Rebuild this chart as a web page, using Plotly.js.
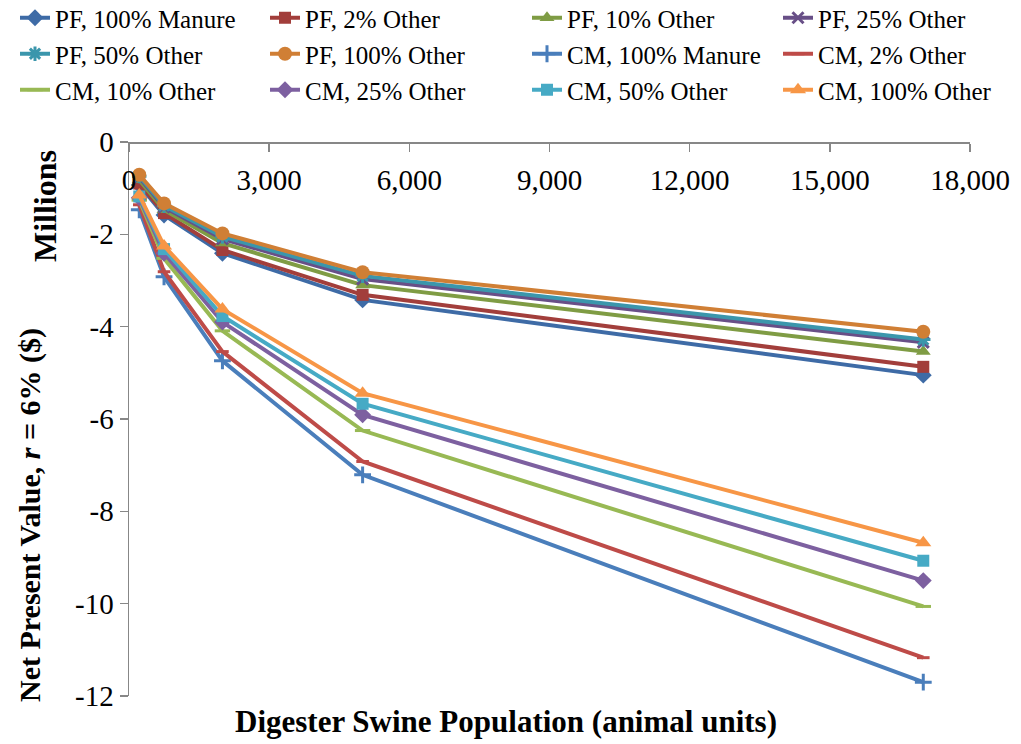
<!DOCTYPE html>
<html>
<head>
<meta charset="utf-8">
<script src="https://cdn.plot.ly/plotly-3.0.1.min.js"></script>
<style>
  html, body { margin: 0; padding: 0; background: #ffffff; }
  #chart { width: 1021px; height: 744px; }
</style>
</head>
<body>
<div id="chart"></div>
<script>
// Digester size (animal units)
const population = [220, 750, 2000, 5000, 17000];

// Net present value at r = 6%, millions of dollars
const pf100Manure = [-0.93, -1.58, -2.41, -3.42, -5.05];
const pf2Other    = [-0.90, -1.54, -2.34, -3.31, -4.87];
const pf10Other   = [-0.82, -1.47, -2.19, -3.10, -4.54];
const pf25Other   = [-0.77, -1.41, -2.10, -2.97, -4.34];
const pf50Other   = [-0.74, -1.38, -2.05, -2.90, -4.28];
const pf100Other  = [-0.71, -1.33, -1.98, -2.82, -4.11];
const cm100Manure = [-1.47, -2.92, -4.74, -7.21, -11.70];
const cm2Other    = [-1.36, -2.81, -4.54, -6.92, -11.17];
const cm10Other   = [-1.26, -2.52, -4.09, -6.25, -10.06];
const cm25Other   = [-1.21, -2.41, -3.90, -5.91, -9.50];
const cm50Other   = [-1.18, -2.32, -3.77, -5.67, -9.07];
const cm100Other  = [-1.15, -2.25, -3.62, -5.44, -8.68];

const seriesNames = [
  'PF, 100% Manure', 'PF, 2% Other', 'PF, 10% Other', 'PF, 25% Other',
  'PF, 50% Other', 'PF, 100% Other', 'CM, 100% Manure', 'CM, 2% Other',
  'CM, 10% Other', 'CM, 25% Other', 'CM, 50% Other', 'CM, 100% Other'
];
const seriesValues = [
  pf100Manure, pf2Other, pf10Other, pf25Other, pf50Other, pf100Other,
  cm100Manure, cm2Other, cm10Other, cm25Other, cm50Other, cm100Other
];

const xTickValues = [0, 3000, 6000, 9000, 12000, 15000, 18000];
const yTickValues = [0, -2, -4, -6, -8, -10, -12];
const yTickLabels = ['0', '-2', '-4', '-6', '-8', '-10', '-12'];

// Line colours and marker styles for each series
const styles = [
  { color: '#3E6BA6', symbol: 'diamond',          size: 13 },
  { color: '#A23E3B', symbol: 'square',           size: 12 },
  { color: '#7F9C44', symbol: 'triangle-up',      size: 13 },
  { color: '#684F87', symbol: 'x-thin-open',      size: 11 },
  { color: '#3B96AC', symbol: 'asterisk-open',    size: 12 },
  { color: '#D07F35', symbol: 'circle',           size: 14 },
  { color: '#4A7EBB', symbol: 'cross-thin-open',  size: 12 },
  { color: '#BE4B48', symbol: 'line-ew-open',     size: 9  },
  { color: '#98B954', symbol: 'line-ew-open',     size: 11 },
  { color: '#7D60A0', symbol: 'diamond',          size: 13 },
  { color: '#46AAC5', symbol: 'square',           size: 12 },
  { color: '#F79646', symbol: 'triangle-up',      size: 14 }
];

// One legend box per entry, laid out as a 4 x 3 grid above the plot
const W = 1021, H = 744;
const legendColumnX = [15, 265, 527, 778];
const legendRowY = [18, 54, 90];
const legendId = i => (i === 0 ? 'legend' : 'legend' + (i + 1));

const traces = seriesNames.map((name, i) => {
  const s = styles[i];
  const open = s.symbol.indexOf('open') >= 0;
  return {
    type: 'scatter',
    mode: 'lines+markers',
    name: name,
    x: population,
    y: seriesValues[i],
    legend: legendId(i),
    line: { color: s.color, width: 4 },
    marker: {
      symbol: s.symbol,
      size: s.size,
      color: s.color,
      line: { color: s.color, width: open ? 3 : 0 }
    },
    cliponaxis: false
  };
});

const serif = 'Times New Roman';

const plotLeft = 129, plotRight = 970, plotTop = 142, plotBottom = 696;
const px = v => (v - plotLeft) / (plotRight - plotLeft);
const py = v => (plotBottom - v) / (plotBottom - plotTop);

const axisCommon = {
  showgrid: false,
  zeroline: false,
  showline: true,
  linecolor: '#878787',
  linewidth: 1.5,
  ticks: 'outside',
  ticklen: 8,
  tickwidth: 1.5,
  tickcolor: '#878787',
  tickfont: { family: serif, size: 29, color: '#000000' }
};

const layout = {
  width: W,
  height: H,
  margin: { l: plotLeft, r: W - plotRight, t: plotTop, b: H - plotBottom, autoexpand: false },
  paper_bgcolor: '#ffffff',
  plot_bgcolor: '#ffffff',
  font: { family: serif, color: '#000000', size: 28 },
  showlegend: true,
  xaxis: Object.assign({}, axisCommon, {
    range: [0, 18000],
    tickvals: xTickValues,
    tickformat: ',d',
    anchor: 'free',
    position: 1,
    side: 'bottom',
    ticklabelstandoff: 4
  }),
  yaxis: Object.assign({}, axisCommon, {
    range: [-12, 0],
    tickvals: yTickValues,
    ticktext: yTickLabels
  }),
  annotations: [
    {
      text: '<b>Digester Swine Population (animal units)</b>',
      xref: 'paper', yref: 'paper',
      x: px(506), y: py(721),
      xanchor: 'center', yanchor: 'middle',
      showarrow: false,
      font: { family: serif, size: 31, color: '#000000' }
    },
    {
      text: '<b>Net Present Value, <i>r</i> = 6% ($)</b>',
      xref: 'paper', yref: 'paper',
      x: px(30), y: py(515),
      xanchor: 'center', yanchor: 'middle',
      textangle: -90,
      showarrow: false,
      font: { family: serif, size: 30, color: '#000000' }
    },
    {
      text: '<b>Millions</b>',
      xref: 'paper', yref: 'paper',
      x: px(45), y: py(206),
      xanchor: 'center', yanchor: 'middle',
      textangle: -90,
      showarrow: false,
      font: { family: serif, size: 32, color: '#000000' }
    }
  ]
};

seriesNames.forEach((name, i) => {
  layout[legendId(i)] = {
    xref: 'container', yref: 'container',
    x: legendColumnX[i % 4] / W,
    y: 1 - legendRowY[Math.floor(i / 4)] / H,
    xanchor: 'left', yanchor: 'middle',
    orientation: 'v',
    bgcolor: 'rgba(0,0,0,0)',
    borderwidth: 0,
    itemwidth: 30,
    font: { family: serif, size: 25, color: '#000000' }
  };
});

Plotly.newPlot('chart', traces, layout, { displayModeBar: false, staticPlot: true });
</script>
</body>
</html>
